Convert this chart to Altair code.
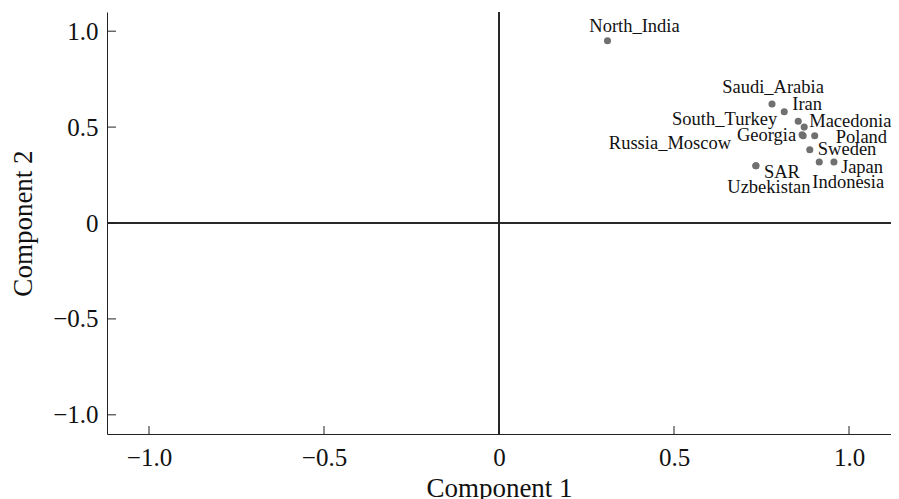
import altair as alt
import pandas as pd

# Data
names = ["North_India", "Saudi_Arabia", "Iran", "South_Turkey", "Macedonia", "Georgia",
         "Russia_Moscow", "Poland", "Sweden", "SAR", "Uzbekistan", "Indonesia", "Japan"]
comp1 = [0.31, 0.78, 0.815, 0.855, 0.872, 0.869, 0.866, 0.902, 0.888, 0.734, 0.734, 0.915, 0.957]
comp2 = [0.95, 0.62, 0.58, 0.53, 0.50, 0.455, 0.46, 0.455, 0.382, 0.298, 0.298, 0.318, 0.318]
tick_vals = [-1.0, -0.5, 0.0, 0.5, 1.0]

# label placement (style): align, dx, dy
label_style = {
    "North_India": ("center", 27, -15),
    "Saudi_Arabia": ("center", 1, -17),
    "Iran": ("left", 8, -8),
    "South_Turkey": ("right", -21, -2),
    "Macedonia": ("left", 5, -6),
    "Georgia": ("right", -7, -1),
    "Russia_Moscow": ("right", -71, 8),
    "Poland": ("left", 21, 1),
    "Sweden": ("left", 8, -1),
    "SAR": ("left", 8, 6),
    "Uzbekistan": ("center", 13, 21),
    "Indonesia": ("left", -7, 20),
    "Japan": ("left", 7, 5),
}

df = pd.DataFrame({"name": names, "c1": comp1, "c2": comp2})
ticks = pd.DataFrame({"t": tick_vals})

FONT = "Liberation Serif"
W, H = 784, 422
xdom = [-1.12, 1.12]
ydom = [-1.1, 1.1]

lab_expr = "datum.value == 0 ? '0' : format(datum.value, '.1f')"

xs = alt.Scale(domain=xdom, nice=False, zero=False)
ys = alt.Scale(domain=ydom, nice=False, zero=False)

points = alt.Chart(df).mark_circle(size=50, color="#707070", opacity=1).encode(
    x=alt.X("c1:Q", scale=xs,
            axis=alt.Axis(title="Component 1", values=tick_vals, labelExpr=lab_expr,
                          ticks=False, grid=False, labelPadding=11, titlePadding=5)),
    y=alt.Y("c2:Q", scale=ys,
            axis=alt.Axis(title="Component 2", values=tick_vals, labelExpr=lab_expr,
                          ticks=False, grid=False, labelPadding=9, titlePadding=15)),
)

vline = alt.Chart(ticks).mark_rule(color="#222222", strokeWidth=1).encode(
    x=alt.datum(0, scale=xs))
hline = alt.Chart(ticks).mark_rule(color="#222222", strokeWidth=1).encode(
    y=alt.datum(0, scale=ys))

yticks = alt.Chart(ticks).mark_rule(color="#222222", strokeWidth=1).encode(
    y=alt.Y("t:Q", scale=ys), x=alt.value(0), x2=alt.value(9))
xticks = alt.Chart(ticks).mark_rule(color="#222222", strokeWidth=1).encode(
    x=alt.X("t:Q", scale=xs), y=alt.value(H), y2=alt.value(H - 8))

labels = []
for n in names:
    al, dx, dy = label_style[n]
    labels.append(
        alt.Chart(df).transform_filter(alt.datum.name == n).mark_text(
            font=FONT, fontSize=18.5, color="#111111", align=al, baseline="middle", dx=dx, dy=dy
        ).encode(x=alt.X("c1:Q", scale=xs), y=alt.Y("c2:Q", scale=ys), text="name:N")
    )

chart = alt.layer(vline, hline, yticks, xticks, points, *labels).properties(
    width=W, height=H,
    autosize=alt.AutoSizeParams(type="none"),
    padding={"left": 99, "top": 4, "right": 0, "bottom": 70},
).configure_view(stroke=None).configure_axis(
    domainColor="#222222", domainWidth=1,
    labelFont=FONT, labelFontSize=25, labelColor="#111111",
    titleFont=FONT, titleFontSize=27, titleFontWeight="normal", titleColor="#111111",
)

chart.save("out.html", embed_options={"renderer": "svg", "actions": False})
